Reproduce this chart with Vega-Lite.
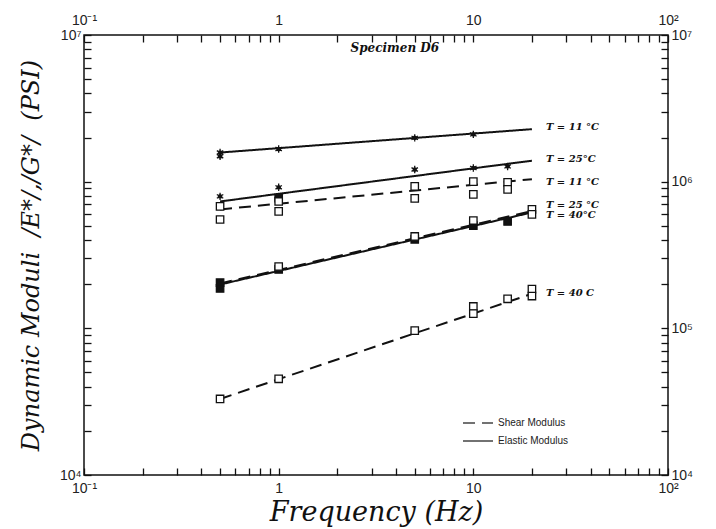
{
  "$schema": "https://vega.github.io/schema/vega-lite/v6.json",
  "autosize": "none",
  "width": 584,
  "height": 440,
  "padding": {"left": 84, "top": 35, "right": 48, "bottom": 54},
  "background": "white",
  "config": {
    "view": {"stroke": "#111", "strokeWidth": 1.5},
    "axis": {
      "domain": false, "ticks": true, "tickColor": "#111", "tickOpacity": 1, "tickWidth": 1.3, "tickSize": 7,
      "grid": false, "labelFont": "Liberation Sans", "labelFontSize": 14, "labelColor": "#222",
      "titleColor": "#111"
    }
  },
  "datasets": {
    "fits": [
      {"freq": 0.5, "value": 1580000, "series": "E 11", "modulus": "Elastic Modulus"},
      {"freq": 20, "value": 2280000, "series": "E 11", "modulus": "Elastic Modulus"},
      {"freq": 0.5, "value": 733000, "series": "E 25", "modulus": "Elastic Modulus"},
      {"freq": 20, "value": 1390000, "series": "E 25", "modulus": "Elastic Modulus"},
      {"freq": 0.5, "value": 647000, "series": "G 11", "modulus": "Shear Modulus"},
      {"freq": 20, "value": 1040000, "series": "G 11", "modulus": "Shear Modulus"},
      {"freq": 0.5, "value": 202000, "series": "G 25", "modulus": "Shear Modulus"},
      {"freq": 20, "value": 630000, "series": "G 25", "modulus": "Shear Modulus"},
      {"freq": 0.5, "value": 199000, "series": "E 40", "modulus": "Elastic Modulus"},
      {"freq": 20, "value": 617000, "series": "E 40", "modulus": "Elastic Modulus"},
      {"freq": 0.5, "value": 33000, "series": "G 40", "modulus": "Shear Modulus"},
      {"freq": 20, "value": 172000, "series": "G 40", "modulus": "Shear Modulus"}
    ],
    "points": [
      {"freq": 0.5, "value": 1490000, "marker": "star"},
      {"freq": 0.5, "value": 1580000, "marker": "star"},
      {"freq": 1, "value": 1670000, "marker": "star"},
      {"freq": 5, "value": 1990000, "marker": "star"},
      {"freq": 10, "value": 2100000, "marker": "star"},
      {"freq": 0.5, "value": 794000, "marker": "star"},
      {"freq": 1, "value": 915000, "marker": "star"},
      {"freq": 5, "value": 1210000, "marker": "star"},
      {"freq": 10, "value": 1240000, "marker": "star"},
      {"freq": 15, "value": 1270000, "marker": "star"},
      {"freq": 1, "value": 773000, "marker": "filled"},
      {"freq": 0.5, "value": 678000, "marker": "open"},
      {"freq": 0.5, "value": 552000, "marker": "open"},
      {"freq": 1, "value": 733000, "marker": "open"},
      {"freq": 1, "value": 627000, "marker": "open"},
      {"freq": 5, "value": 929000, "marker": "open"},
      {"freq": 5, "value": 769000, "marker": "open"},
      {"freq": 10, "value": 1000000, "marker": "open"},
      {"freq": 10, "value": 819000, "marker": "open"},
      {"freq": 15, "value": 989000, "marker": "open"},
      {"freq": 15, "value": 886000, "marker": "open"},
      {"freq": 0.5, "value": 205000, "marker": "filled"},
      {"freq": 0.5, "value": 187000, "marker": "filled"},
      {"freq": 1, "value": 252000, "marker": "filled"},
      {"freq": 5, "value": 404000, "marker": "filled"},
      {"freq": 10, "value": 502000, "marker": "filled"},
      {"freq": 15, "value": 535000, "marker": "filled"},
      {"freq": 1, "value": 264000, "marker": "open"},
      {"freq": 5, "value": 423000, "marker": "open"},
      {"freq": 10, "value": 543000, "marker": "open"},
      {"freq": 20, "value": 647000, "marker": "open"},
      {"freq": 20, "value": 598000, "marker": "open"},
      {"freq": 0.5, "value": 33000, "marker": "open"},
      {"freq": 1, "value": 45300, "marker": "open"},
      {"freq": 5, "value": 96400, "marker": "open"},
      {"freq": 10, "value": 141000, "marker": "open"},
      {"freq": 10, "value": 126000, "marker": "open"},
      {"freq": 15, "value": 159000, "marker": "open"},
      {"freq": 20, "value": 185000, "marker": "open"},
      {"freq": 20, "value": 166000, "marker": "open"}
    ],
    "labels": [
      {"freq": 20, "value": 2350000, "label": "T = 11 °C"},
      {"freq": 20, "value": 1420000, "label": "T = 25°C"},
      {"freq": 20, "value": 989000, "label": "T = 11 °C"},
      {"freq": 20, "value": 689000, "label": "T = 25 °C"},
      {"freq": 20, "value": 589000, "label": "T = 40°C"},
      {"freq": 20, "value": 175000, "label": "T = 40  C"}
    ],
    "heading": [
      {"freq": 3.95, "value": 8150000, "label": "Specimen D6"}
    ]
  },
  "layer": [
    {
      "data": {"name": "fits"},
      "mark": {"type": "line", "color": "#111", "strokeWidth": 2},
      "encoding": {
        "x": {
          "field": "freq", "type": "quantitative",
          "scale": {"type": "log", "domain": [0.1, 100], "nice": false},
          "axis": {
            "orient": "bottom", "title": "Frequency (Hz)", "offset": -7,
            "ticks": true, "tickSize": 7, "tickColor": "#111", "tickWidth": 1.3,
            "values": [0.1,0.2,0.3,0.4,0.5,0.6,0.7,0.8,0.9,1,2,3,4,5,6,7,8,9,10,20,30,40,50,60,70,80,90,100],
            "labelExpr": "abs(datum.value-0.1)<1e-9 ? '10⁻¹' : datum.value==1 ? '1' : datum.value==10 ? '10' : datum.value==100 ? '10²' : ''",
            "labelPadding": 6, "labelFlush": false, "labelFontSize": 14,
            "titleFont": "DejaVu Serif", "titleFontStyle": "italic", "titleFontWeight": "normal",
            "titleFontSize": 27, "titlePadding": 4
          }
        },
        "y": {
          "field": "value", "type": "quantitative",
          "scale": {"type": "log", "domain": [10000, 10000000], "nice": false},
          "axis": {
            "orient": "left", "title": "Dynamic Moduli\u00a0 /E*/,/G*/\u00a0 (PSI)", "offset": -7,
            "ticks": true, "tickSize": 7, "tickColor": "#111", "tickWidth": 1.3,
            "values": [10000,20000,30000,40000,50000,60000,70000,80000,90000,100000,200000,300000,400000,500000,600000,700000,800000,900000,1000000,2000000,3000000,4000000,5000000,6000000,7000000,8000000,9000000,10000000],
            "labelExpr": "datum.value==10000000 ? '10⁷' : datum.value==10000 ? '10⁴' : ''",
            "labelPadding": 3, "labelFlush": false, "labelFontSize": 14,
            "titleFont": "DejaVu Serif", "titleFontStyle": "italic", "titleFontWeight": "normal",
            "titleFontSize": 24, "titlePadding": 16
          }
        },
        "detail": {"field": "series"},
        "strokeDash": {
          "field": "modulus", "type": "nominal",
          "scale": {"domain": ["Shear Modulus", "Elastic Modulus"], "range": [[12, 7], [1, 0]]},
          "legend": {
            "title": null, "orient": "none", "legendX": 378, "legendY": 380,
            "symbolType": "stroke", "symbolSize": 900, "symbolStrokeWidth": 1.5, "clipHeight": 16,
            "symbolStrokeColor": "#444", "labelFont": "Liberation Sans", "labelFontSize": 10,
            "labelColor": "#222", "rowPadding": 2
          }
        }
      }
    },
    {
      "data": {"name": "points"},
      "mark": {"type": "point", "filled": true, "stroke": "#111", "strokeWidth": 1.3, "opacity": 1},
      "encoding": {
        "x": {
          "field": "freq", "type": "quantitative",
          "scale": {"type": "log", "domain": [0.1, 100], "nice": false},
          "axis": {
            "orient": "top", "title": null, "offset": -7,
            "ticks": true, "tickSize": 7, "tickColor": "#111", "tickWidth": 1.3,
            "values": [0.1,0.2,0.3,0.4,0.5,0.6,0.7,0.8,0.9,1,2,3,4,5,6,7,8,9,10,20,30,40,50,60,70,80,90,100],
            "labelExpr": "abs(datum.value-0.1)<1e-9 ? '10⁻¹' : datum.value==1 ? '1' : datum.value==10 ? '10' : datum.value==100 ? '10²' : ''",
            "labelPadding": 8, "labelFlush": false, "labelFontSize": 14
          }
        },
        "y": {
          "field": "value", "type": "quantitative",
          "scale": {"type": "log", "domain": [10000, 10000000], "nice": false},
          "axis": {
            "orient": "right", "title": null, "offset": -7,
            "ticks": true, "tickSize": 7, "tickColor": "#111", "tickWidth": 1.3,
            "values": [10000,20000,30000,40000,50000,60000,70000,80000,90000,100000,200000,300000,400000,500000,600000,700000,800000,900000,1000000,2000000,3000000,4000000,5000000,6000000,7000000,8000000,9000000,10000000],
            "labelExpr": "datum.value==10000000 ? '10⁷' : datum.value==1000000 ? '10⁶' : datum.value==100000 ? '10⁵' : datum.value==10000 ? '10⁴' : ''",
            "labelPadding": 3, "labelFlush": false, "labelFontSize": 14
          }
        },
        "shape": {
          "field": "marker", "type": "nominal", "legend": null,
          "scale": {"domain": ["star", "open", "filled"], "range": ["M0,-1L0,1M-0.87,-0.5L0.87,0.5M-0.87,0.5L0.87,-0.5M0.45,0A0.45,0.45 0 1,1 -0.45,0A0.45,0.45 0 1,1 0.45,0Z", "square", "square"]}
        },
        "fill": {
          "field": "marker", "type": "nominal", "legend": null,
          "scale": {"domain": ["star", "open", "filled"], "range": ["#111", "white", "#111"]}
        },
        "size": {"value": 55}
      }
    },
    {
      "data": {"name": "labels"},
      "mark": {"type": "text", "align": "left", "baseline": "middle", "dx": 14, "font": "DejaVu Serif", "fontStyle": "italic", "fontWeight": "bold", "fontSize": 10, "color": "#111"},
      "encoding": {
        "x": {"field": "freq", "type": "quantitative", "scale": {"type": "log", "domain": [0.1, 100], "nice": false}, "axis": null},
        "y": {"field": "value", "type": "quantitative", "scale": {"type": "log", "domain": [10000, 10000000], "nice": false}, "axis": null},
        "text": {"field": "label"}
      }
    },
    {
      "data": {"name": "heading"},
      "mark": {"type": "text", "align": "center", "baseline": "middle", "font": "DejaVu Serif", "fontStyle": "italic", "fontWeight": "bold", "fontSize": 12, "color": "#111"},
      "encoding": {
        "x": {"field": "freq", "type": "quantitative", "scale": {"type": "log", "domain": [0.1, 100], "nice": false}, "axis": null},
        "y": {"field": "value", "type": "quantitative", "scale": {"type": "log", "domain": [10000, 10000000], "nice": false}, "axis": null},
        "text": {"field": "label"}
      }
    }
  ]
}
